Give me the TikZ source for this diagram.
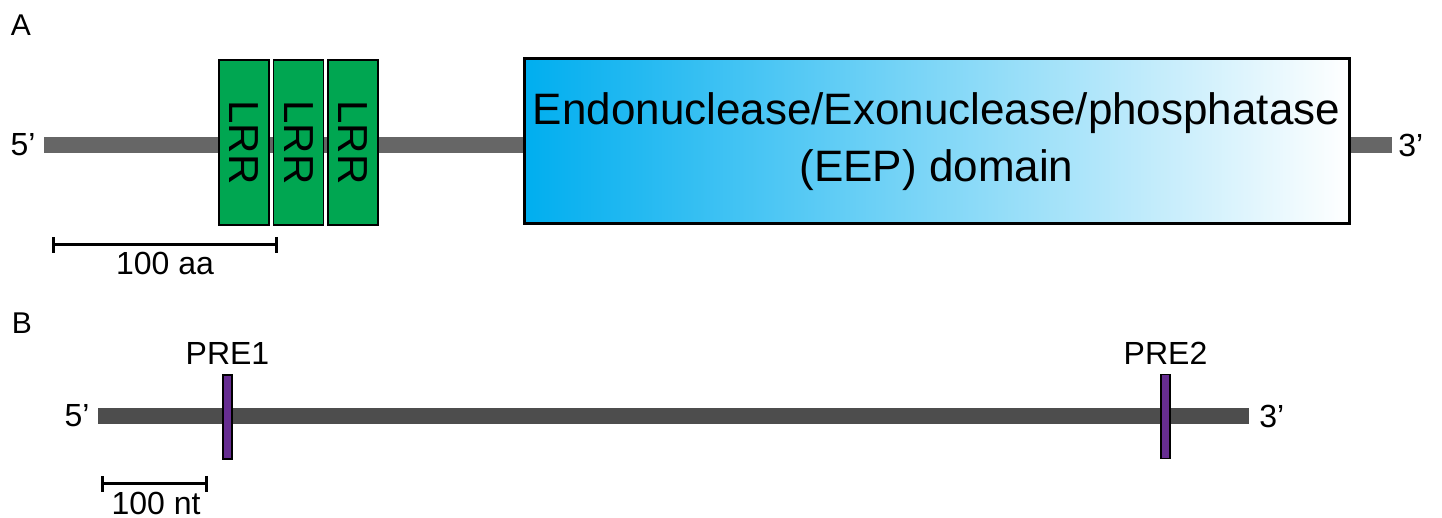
\documentclass[tikz,border=0pt]{standalone}
\usepackage{fontspec}
\setmainfont{Liberation Sans}
\usetikzlibrary{positioning,arrows.meta}
\definecolor{lrrgreen}{HTML}{00A651}
\definecolor{eepblue}{HTML}{00AEEF}
\definecolor{prepurple}{HTML}{662D91}
\definecolor{rnagrey}{HTML}{4D4D4D}
\definecolor{protgrey}{HTML}{666666}
\tikzset{
  lrr/.style={draw=black, line width=0.6pt, fill=lrrgreen, minimum width=25pt, minimum height=82.5pt, inner sep=0pt},
  pre/.style={draw=black, line width=0.6pt, fill=prepurple, minimum width=4.5pt, minimum height=42pt, inner sep=0pt},
  lbl/.style={font=\fontsize{16}{19}\selectfont, inner sep=0pt},
  panel/.style={font=\fontsize{15}{18}\selectfont, inner sep=0pt},
  backbone/.style={line width=8pt},
  scalebar/.style={line width=1.5pt, {Bar[width=8pt]}-{Bar[width=8pt]}},
}
\begin{document}
\begin{tikzpicture}[x=0.5pt, y=-0.5pt]
    \useasboundingbox (0,0) rectangle (1442,518);

    % A: protein
    \node[panel] (A) at (21,25) {A};
    \coordinate (A5) at (44,145);
    \coordinate (A3) at (1392,145);
    \draw[backbone, protgrey] (A5) -- (A3);
    \node[lbl, left=4pt of A5] (A5L) {5’};
    \node[lbl, right=3pt of A3] (A3L) {3’};

    \node[lrr] (LRR1) at (244,142.5) {\rotatebox{-90}{\fontsize{21}{24}\selectfont LRR}};
    \node[lrr] (LRR2) at (298.5,142.5) {\rotatebox{-90}{\fontsize{21}{24}\selectfont LRR}};
    \node[lrr] (LRR3) at (353,142.5) {\rotatebox{-90}{\fontsize{21}{24}\selectfont LRR}};

    \node[draw=black, line width=1.5pt, left color=eepblue, right color=white,
          minimum width=412.5pt, minimum height=82.5pt, inner sep=0pt,
          align=center, font=\fontsize{22}{28.5}\selectfont] (EEP) at (936.5,141.5)
          {Endonuclease/Exonuclease/phosphatase\\(EEP) domain};

    \coordinate (SA1) at (52,245);
    \coordinate (SA2) at (278,245);
    \draw[scalebar] (SA1) -- (SA2);
    \node[lbl] (SAL) at (165,263) {100 aa};

    % B: RNA
    \node[panel] (B) at (22,323) {B};
    \coordinate (B5) at (98,416);
    \coordinate (B3) at (1249,416);
    \draw[backbone, rnagrey] (B5) -- (B3);
    \node[lbl, left=4pt of B5] (B5L) {5’};
    \node[lbl, right=5pt of B3] (B3L) {3’};

    \node[pre] (PRE1) at (227.5,417) {};
    \node[pre] (PRE2) at (1165.5,416.5) {};
    \node[lbl, above=4.5pt of PRE1] (PRE1L) {PRE1};
    \node[lbl, above=4.5pt of PRE2] (PRE2L) {PRE2};

    \coordinate (SB1) at (101,484);
    \coordinate (SB2) at (208,484);
    \draw[scalebar] (SB1) -- (SB2);
    \node[lbl] (SBL) at (156,503) {100 nt};
\end{tikzpicture}
\end{document}
